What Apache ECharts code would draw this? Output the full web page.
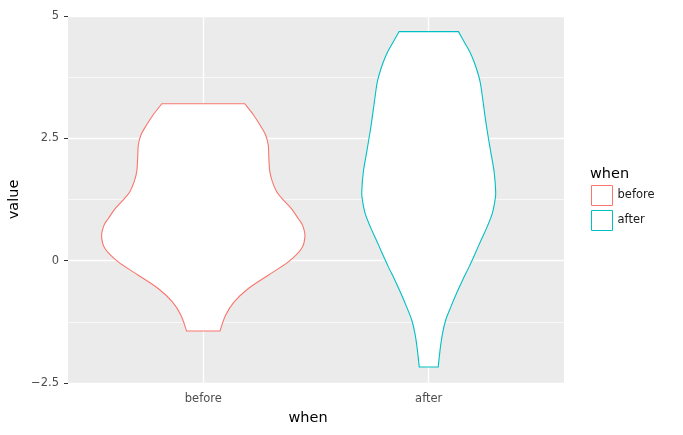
<!DOCTYPE html>
<html><head><meta charset="utf-8">
<script src="https://cdn.jsdelivr.net/npm/echarts@6/dist/echarts.min.js"></script>
<style>html,body{margin:0;padding:0;background:#fff}#c{width:683px;height:435px}</style>
</head><body><div id="c"></div>
<script>
// Categories and colours
const categories = ['before', 'after'];
const categoryPositions = [1, 2];
const seriesColors = ['#F8766D', '#00BFC4'];

// Violin profiles: value (y) and half-width (in x-axis units), top to bottom
const beforeValues = [3.207, 2.982, 2.777, 2.573, 2.368, 2.096, 1.824, 1.620, 1.415, 1.278, 1.067, 0.863, 0.726, 0.507, 0.249, -0.025, -0.297, -0.569, -0.843, -1.115, -1.436];
const beforeHalfWidths = [0.184, 0.222, 0.251, 0.276, 0.288, 0.291, 0.295, 0.306, 0.325, 0.348, 0.390, 0.421, 0.440, 0.451, 0.436, 0.377, 0.288, 0.200, 0.137, 0.099, 0.074];
const afterValues = [4.680, 4.474, 4.270, 4.065, 3.861, 3.656, 3.452, 3.010, 2.634, 2.225, 1.816, 1.407, 1.237, 0.965, 0.691, 0.419, 0.147, -0.127, -0.399, -0.671, -0.945, -1.217, -1.489, -1.763, -2.172];
const afterHalfWidths = [0.132, 0.157, 0.182, 0.201, 0.216, 0.228, 0.235, 0.248, 0.260, 0.275, 0.290, 0.297, 0.294, 0.282, 0.259, 0.232, 0.206, 0.179, 0.150, 0.123, 0.098, 0.075, 0.061, 0.052, 0.042];

const profiles = [
  { values: beforeValues, halfWidths: beforeHalfWidths },
  { values: afterValues, halfWidths: afterHalfWidths }
];

const FONT = 'DejaVu Sans';

function catmull(points) {
  let d = '';
  const n = points.length;
  for (let i = 0; i < n - 1; i++) {
    const p0 = points[Math.max(i - 1, 0)];
    const p1 = points[i];
    const p2 = points[i + 1];
    const p3 = points[Math.min(i + 2, n - 1)];
    const c1x = p1[0] + (p2[0] - p0[0]) / 6, c1y = p1[1] + (p2[1] - p0[1]) / 6;
    const c2x = p2[0] - (p3[0] - p1[0]) / 6, c2y = p2[1] - (p3[1] - p1[1]) / 6;
    d += ' C' + c1x.toFixed(2) + ',' + c1y.toFixed(2) + ' ' + c2x.toFixed(2) + ',' + c2y.toFixed(2) + ' ' + p2[0].toFixed(2) + ',' + p2[1].toFixed(2);
  }
  return d;
}

function makeRender(idx) {
  return function (params, api) {
    const xc = api.value(0);
    const prof = profiles[idx];
    const left = prof.values.map((v, i) => api.coord([xc - prof.halfWidths[i], v]));
    const right = prof.values.map((v, i) => api.coord([xc + prof.halfWidths[i], v])).reverse();
    let d = 'M' + left[0][0].toFixed(2) + ',' + left[0][1].toFixed(2);
    d += catmull(left);
    d += ' L' + right[0][0].toFixed(2) + ',' + right[0][1].toFixed(2);
    d += catmull(right);
    d += ' Z';
    return {
      type: 'path',
      shape: { pathData: d },
      style: { fill: '#ffffff', stroke: seriesColors[idx], lineWidth: 1.1 }
    };
  };
}

const chart = echarts.init(document.getElementById('c'), null, { renderer: 'canvas' });
const option = {
  animation: false,
  textStyle: { fontFamily: FONT },
  grid: {
    left: 68, right: 119, top: 16, bottom: 52,
    outerBoundsMode: 'none', containLabel: false,
    show: true, backgroundColor: '#EBEBEB', borderWidth: 0
  },
  xAxis: {
    type: 'value', min: 0.4, max: 2.6,
    name: 'when', nameLocation: 'middle', nameGap: 28,
    nameTextStyle: { fontSize: 14.5, color: '#000', fontFamily: FONT, padding: [0, 16, 0, 0] },
    axisLine: { show: false },
    axisTick: { show: true, length: 4, customValues: categoryPositions, lineStyle: { color: '#333333', width: 1 } },
    axisLabel: {
      customValues: categoryPositions, margin: 10, fontSize: 11.5, color: '#4D4D4D', fontFamily: FONT,
      formatter: v => categories[Math.round(v) - 1]
    },
    splitLine: { show: true, lineStyle: { color: '#ffffff', width: 1.3 } },
    minorSplitLine: { show: false }
  },
  yAxis: {
    type: 'value', min: -2.5, max: 5, interval: 2.5,
    name: 'value', nameLocation: 'middle', nameGap: 46, nameRotate: 90, nameMoveOverlap: false,
    nameTextStyle: { fontSize: 14.5, color: '#000', fontFamily: FONT },
    axisLine: { show: false },
    axisTick: { show: true, length: 4, lineStyle: { color: '#333333', width: 1 } },
    axisLabel: {
      margin: 9, fontSize: 11.5, color: '#4D4D4D', fontFamily: FONT,
      formatter: v => (v < 0 ? '\u2212' + Math.abs(v) : String(v))
    },
    splitLine: { show: true, lineStyle: { color: '#ffffff', width: 1.3 } },
    minorTick: { show: false, splitNumber: 2 },
    minorSplitLine: { show: true, lineStyle: { color: '#ffffff', width: 0.7 } }
  },
  legend: {
    left: 591, top: 185, orient: 'vertical', icon: 'rect', padding: 0,
    itemWidth: 21, itemHeight: 20, itemGap: 4,
    textStyle: { fontSize: 11.5, color: '#1a1a1a', fontFamily: FONT },
    data: categories.map((c, i) => ({
      name: c,
      itemStyle: { color: '#ffffff', borderColor: seriesColors[i], borderWidth: 1 }
    }))
  },
  graphic: [{
    type: 'text', left: 590, top: 167,
    style: { text: 'when', fontSize: 14.5, fill: '#000', fontFamily: FONT }
  }],
  series: categories.map((c, i) => ({
    type: 'custom',
    name: c,
    renderItem: makeRender(i),
    itemStyle: { color: '#ffffff', borderColor: seriesColors[i] },
    data: [[categoryPositions[i]]],
    encode: { x: 0 },
    silent: true
  }))
};
chart.setOption(option);
</script>
</body></html>
